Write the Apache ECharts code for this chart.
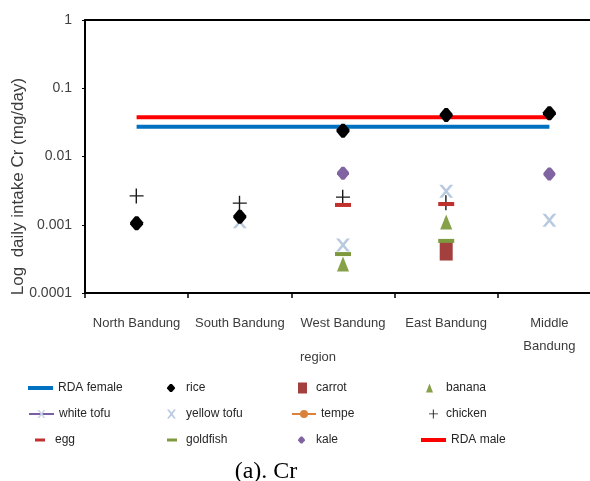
<!DOCTYPE html>
<html>
<head>
<meta charset="utf-8">
<script src="https://cdn.jsdelivr.net/npm/echarts@6/dist/echarts.min.js"></script>
<style>html,body{margin:0;padding:0;background:#fff}#c{width:590px;height:481px}</style>
</head>
<body>
<div id="c"></div>
<script>
// ---- data ----
const regions = ['North Bandung', 'South Bandung', 'West Bandung', 'East Bandung', 'Middle Bandung'];
const yTickLabels = ['0.0001', '0.001', '0.01', '0.1', '1'];
const rdaFemale = [0.0273, 0.0273, 0.0273, 0.0273, 0.0273];
const rdaMale = [0.0375, 0.0375, 0.0375, 0.0375, 0.0375];
const rice = [0.00105, 0.00131, 0.0239, 0.0406, 0.0430];
const carrot = [null, null, null, 0.000412, null];
const banana = [null, null, 0.000266, 0.0011, null];
const whiteTofu = [null, null, null, null, null];
const yellowTofu = [null, 0.00111, 0.000505, 0.0031, 0.00116];
const tempe = [null, null, null, null, null];
const chicken = [0.00264, 0.00206, 0.00252, 0.0021, null];
const egg = [null, null, 0.00195, 0.00201, null];
const goldfish = [null, null, 0.000372, 0.00058, null];
const kale = [null, null, 0.00567, null, 0.00554];

// ---- styles ----
const FONT = 'Liberation Sans, Arial, sans-serif';
const SYM_BLOB = 'path://M5,0h3l5,5.5v2l-5,5.5h-3l-5,-5.5v-2z';
const SYM_X = 'path://M0,0h3l3.5,4.5l3.5,-4.5h3l-5,6.5l5,6.5h-3l-3.5,-4.5l-3.5,4.5h-3l5,-6.5z';
const SYM_PLUS = 'path://M6,0h1.4v6.3h6.6v1.1h-6.6v6.6h-1.4v-6.6h-6v-1.1h6z';
const SYM_DASH = 'path://M0,0h16v4h-16z';
const ICON_LINE = 'path://M0,0h25v4h-25z';

function scatter(name, data, symbol, size, color, z) {
  return { name, type: 'scatter', data, symbol, symbolSize: size, itemStyle: { color, opacity: 1 }, z: z || 3 };
}

const series = [
  { name: 'RDA female', type: 'line', data: rdaFemale, showSymbol: false, symbol: 'none', lineStyle: { color: '#0070c0', width: 4 }, itemStyle: { color: '#0070c0' }, z: 1 },
  { name: 'RDA male', type: 'line', data: rdaMale, showSymbol: false, symbol: 'none', lineStyle: { color: '#ff0000', width: 4 }, itemStyle: { color: '#ff0000' }, z: 1 },
  { name: 'white tofu', type: 'line', data: whiteTofu, symbol: SYM_X, symbolSize: 9, lineStyle: { color: '#7a5fa6', width: 2.5 }, itemStyle: { color: '#c9d4e6' }, z: 2 },
  { name: 'tempe', type: 'line', data: tempe, symbol: 'circle', symbolSize: 9, lineStyle: { color: '#d9823b', width: 3 }, itemStyle: { color: '#d9823b' }, z: 2 },
  scatter('carrot', carrot, 'rect', [13, 19], '#a3403d', 3),
  scatter('banana', banana, 'triangle', [12, 15], '#86a14a', 3),
  scatter('yellow tofu', yellowTofu, SYM_X, [14, 13], '#b8c9e0', 3),
  scatter('chicken', chicken, SYM_PLUS, [14, 15], '#1a1a1a', 4),
  scatter('egg', egg, SYM_DASH, [16, 4], '#c0312e', 5),
  scatter('goldfish', goldfish, SYM_DASH, [16, 4], '#7f9a3e', 5),
  scatter('kale', kale, SYM_BLOB, [12, 13], '#8064a2', 5),
  scatter('rice', rice, SYM_BLOB, [13, 14], '#000000', 6)
];

// legend layout: name, icon left, row center y, icon w, h, text pad, icon
const legendLayout = [
  ['RDA female', 28, 387, 25, 4, 0, ICON_LINE],
  ['rice', 167, 387, 8, 9, 6, SYM_BLOB],
  ['carrot', 298, 387, 9, 11, 4, 'rect'],
  ['banana', 426, 387, 7, 9, 8, 'triangle'],
  ['white tofu', 28, 413, 25, 10, 0, null],
  ['yellow tofu', 167, 413, 9, 10, 5, SYM_X],
  ['tempe', 291, 413, 24, 10, 0, null],
  ['chicken', 429, 413, 9, 10, 3, SYM_PLUS],
  ['egg', 35, 439, 10, 3, 5, 'rect'],
  ['goldfish', 167, 439, 10, 3, 4, 'rect'],
  ['kale', 298, 439, 7, 8, 6, SYM_BLOB],
  ['RDA male', 421, 439, 25, 4, 0, ICON_LINE]
];

const legends = legendLayout.map(([name, left, cy, w, h, pad, icon]) => ({
  left, top: cy - 5, itemWidth: w, itemHeight: h, itemGap: 0, padding: 0,
  selectedMode: false,
  data: [icon ? { name, icon } : { name }],
  textStyle: { fontFamily: FONT, fontSize: 12, color: '#262626', padding: [0, 0, 0, pad] }
}));

const chart = echarts.init(document.getElementById('c'), null, { renderer: 'canvas' });
chart.setOption({
  animation: false,
  backgroundColor: '#fff',
  grid: { left: 85, top: 20, width: 516, height: 273, containLabel: false, outerBoundsMode: 'none' },
  title: {
    text: '(a). Cr', left: 261, textAlign: 'center', top: 455,
    textStyle: { fontFamily: 'Liberation Serif, Times New Roman, serif', fontWeight: 'normal', fontSize: 24, color: '#000' }
  },
  legend: legends,
  xAxis: [{
    type: 'category', data: regions, boundaryGap: true, position: 'bottom',
    axisLine: { lineStyle: { color: '#000', width: 2 } },
    axisTick: { show: true, interval: 0, length: 5, lineStyle: { color: '#000', width: 1.5 } },
    axisLabel: {
      interval: 0, margin: 19, fontFamily: FONT, fontSize: 13, color: '#3c3c3c', lineHeight: 23,
      formatter: v => v === 'Middle Bandung' ? 'Middle\nBandung' : v
    },
    name: 'region', nameLocation: 'middle', nameGap: 58, nameMoveOverlap: false,
    nameTextStyle: { fontFamily: FONT, fontSize: 13, color: '#3c3c3c', padding: [0, 50, 0, 0] }
  }, {
    type: 'category', data: regions, position: 'top',
    axisLine: { lineStyle: { color: '#000', width: 2 } },
    axisTick: { show: false }, axisLabel: { show: false }
  }],
  yAxis: {
    type: 'log', logBase: 10, min: 0.0001, max: 1,
    axisLine: { show: true, lineStyle: { color: '#000', width: 2 } },
    axisTick: { show: true, length: 3, lineStyle: { color: '#000', width: 1 } },
    splitLine: { show: false },
    axisLabel: {
      margin: 13, fontFamily: FONT, fontSize: 14, color: '#404040',
      formatter: v => yTickLabels[Math.round(Math.log10(v)) + 4]
    },
    name: 'Log  daily intake Cr (mg/day)', nameLocation: 'middle', nameGap: 58, nameRotate: 90, nameMoveOverlap: false,
    nameTextStyle: { fontFamily: FONT, fontSize: 17, color: '#3c3c3c', padding: [0, 60, 0, 0] }
  },
  series
});
</script>
</body>
</html>
